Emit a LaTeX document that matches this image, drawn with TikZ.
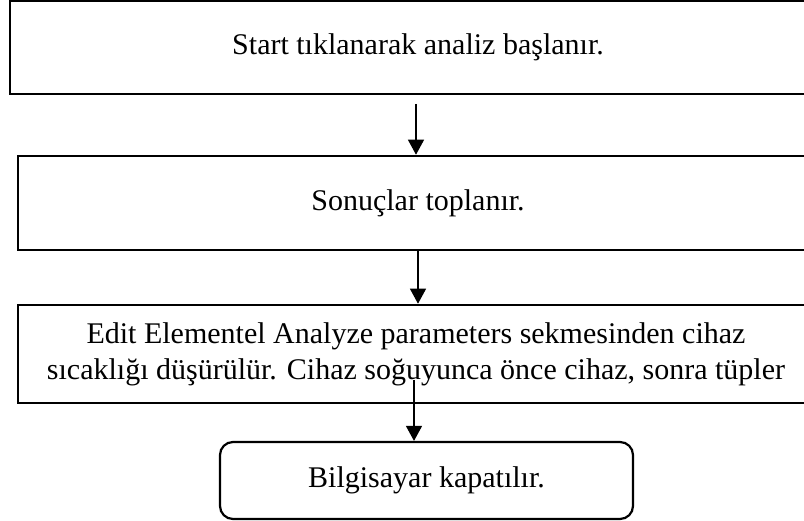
\documentclass[tikz,border=0pt]{standalone}
\usepackage{fontspec}
\setmainfont{Liberation Serif}
\usetikzlibrary{arrows.meta}
\tikzset{
  boxstyle/.style={draw=black, line width=2.6pt, fill=white, inner sep=0pt,
    font=\fontsize{30}{36}\selectfont, align=center},
  endbox/.style={boxstyle, line width=2.2pt, rounded corners=13pt},
  arr/.style={line width=1.3pt, -{Triangle[length=15pt,width=16pt]}}
}
\begin{document}
\begin{tikzpicture}[x=1pt,y=-1pt]
\useasboundingbox (0,0) rectangle (804,521);
\clip (0,0) rectangle (804,521);
\fill[white] (0,0) rectangle (804,521);
\node[boxstyle, minimum width=816pt, minimum height=93pt] (b1) at (418,47.5) {Start tıklanarak analiz başlanır.};
\node[boxstyle, minimum width=800pt, minimum height=94pt] (b2) at (418,203) {Sonuçlar toplanır.};
\node[boxstyle, minimum width=796pt, minimum height=98pt] (b3) at (416,354) {Edit Elementel Analyze parameters sekmesinden cihaz\\sıcaklığı düşürülür. Cihaz soğuyunca önce cihaz, sonra tüpler};
\node[endbox, minimum width=413pt, minimum height=77pt] (b4) at (426.5,480.5) {Bilgisayar kapatılır.};
\coordinate (s1) at (416,104);
\coordinate (s2) at (418,250);
\coordinate (s3) at (414,380);
\draw[arr] (s1) -- (s1 |- b2.north);
\draw[arr] (s2) -- (s2 |- b3.north);
\draw[arr] (s3) -- (s3 |- b4.north);
\end{tikzpicture}
\end{document}
